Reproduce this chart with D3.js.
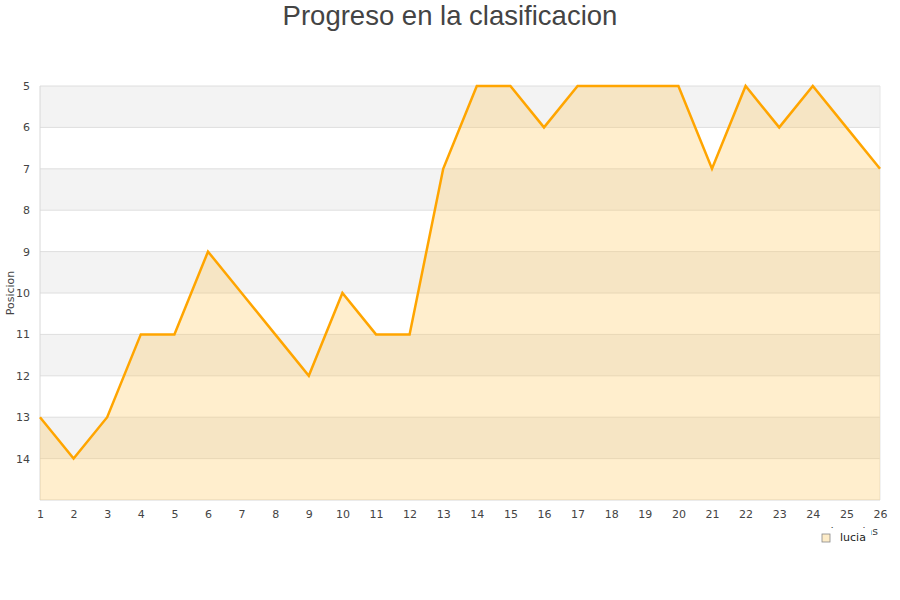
<!DOCTYPE html>
<html>
<head>
<meta charset="utf-8">
<script src="https://cdn.jsdelivr.net/npm/d3@7"></script>
<style>
  body { margin: 0; background: #fff; }
  text { font-family: "DejaVu Sans", sans-serif; }
</style>
</head>
<body>
<div id="chart"></div>
<script>
const jornadas = d3.range(1, 27)
const posiciones = [13,14,13,11,11,9,10,11,12,10,11,11,7,5,5,6,5,5,5,5,7,5,6,5,6,7]
const yTicks = [5,6,7,8,9,10,11,12,13,14]
const serieNombre = "lucia"

const W = 900, H = 600
const m = {left: 40, right: 20, top: 86, bottom: 100}

const svg = d3.select("#chart").append("svg")
  .attr("width", W).attr("height", H)

const x = d3.scaleLinear().domain([1, 26]).range([m.left, W - m.right])
const y = d3.scaleLinear().domain([5, 15]).range([m.top, H - m.bottom])

// bandas alternas
svg.append("g").selectAll("rect")
  .data(d3.range(5, 15))
  .enter().append("rect")
  .attr("x", m.left)
  .attr("width", W - m.right - m.left)
  .attr("y", d => y(d))
  .attr("height", d => y(d + 1) - y(d))
  .attr("fill", d => (d % 2 === 1) ? "#f3f3f3" : "#ffffff")

// rejilla
svg.append("g").selectAll("line")
  .data(d3.range(5, 15))
  .enter().append("line")
  .attr("x1", m.left).attr("x2", W - m.right)
  .attr("y1", d => y(d)).attr("y2", d => y(d))
  .attr("stroke", "#dedede")

svg.append("line")
  .attr("x1", m.left).attr("x2", m.left)
  .attr("y1", m.top).attr("y2", y(15))
  .attr("stroke", "#d8d8d8")
svg.append("line")
  .attr("x1", m.left).attr("x2", W - m.right)
  .attr("y1", y(15)).attr("y2", y(15))
  .attr("stroke", "#d8d8d8")
svg.append("line")
  .attr("x1", W - m.right).attr("x2", W - m.right)
  .attr("y1", m.top).attr("y2", y(15))
  .attr("stroke", "#e6e6e6")

const datos = jornadas.map((j, i) => ({j, p: posiciones[i]}))

const area = d3.area()
  .x(d => x(d.j))
  .y0(y(15))
  .y1(d => y(d.p))

svg.append("path")
  .datum(datos)
  .attr("d", area)
  .attr("fill", "rgba(255, 200, 90, 0.3)")

const line = d3.line()
  .x(d => x(d.j))
  .y(d => y(d.p))

svg.append("path")
  .datum(datos)
  .attr("d", line)
  .attr("fill", "none")
  .attr("stroke", "#ffa500")
  .attr("stroke-width", 2.5)

// ejes
const yAxis = d3.axisLeft(y).tickValues(yTicks).tickSize(0).tickPadding(10)
const gy = svg.append("g")
  .attr("transform", `translate(${m.left},0)`)
  .call(yAxis)
gy.select(".domain").remove()
gy.selectAll("text").attr("fill", "#444").style("font-size", "11px")

const xAxis = d3.axisBottom(x).tickValues(jornadas).tickSize(0).tickPadding(10)
const gx = svg.append("g")
  .attr("transform", `translate(0,${y(15)})`)
  .call(xAxis)
gx.select(".domain").remove()
gx.selectAll("text").attr("fill", "#444").style("font-size", "11px")

// titulos
svg.append("text")
  .attr("x", W / 2).attr("y", 25)
  .attr("text-anchor", "middle")
  .style("font-family", "'Liberation Sans', Arial, sans-serif")
  .style("font-size", "27.5px")
  .attr("fill", "#444")
  .text("Progreso en la clasificacion")

svg.append("text")
  .attr("transform", `translate(14,${(m.top + y(15)) / 2}) rotate(-90)`)
  .attr("text-anchor", "middle")
  .style("font-size", "11px")
  .attr("fill", "#444")
  .text("Posicion")

svg.append("text")
  .attr("x", 878).attr("y", 535)
  .attr("text-anchor", "end")
  .style("font-size", "11px")
  .attr("fill", "#444")
  .text("Jornadas")

// leyenda
const leg = svg.append("g").attr("transform", "translate(815,528)")
leg.append("rect").attr("x", 0).attr("y", 0).attr("width", 56).attr("height", 20).attr("fill", "#fff")
leg.append("rect")
  .attr("x", 7).attr("y", 6).attr("width", 8).attr("height", 8)
  .attr("fill", "#fdecc8").attr("stroke", "#888").attr("stroke-width", 0.8)
leg.append("text")
  .attr("x", 25).attr("y", 13)
  .style("font-size", "11px")
  .attr("fill", "#222")
  .text(serieNombre)
</script>
</body>
</html>
